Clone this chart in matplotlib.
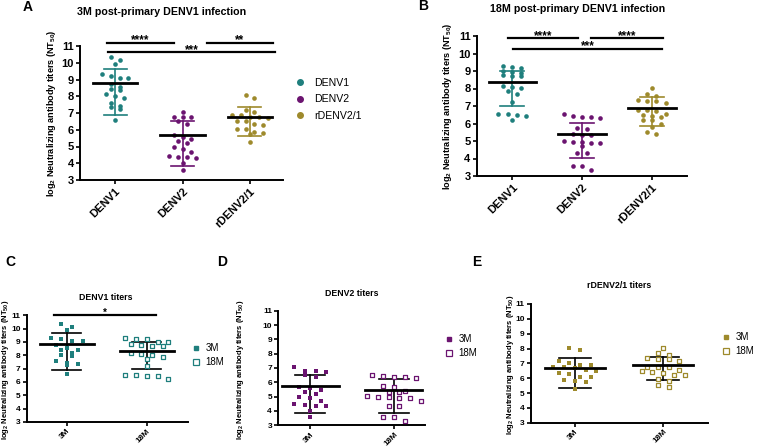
import numpy as np
import matplotlib.pyplot as plt
from matplotlib.lines import Line2D

plt.rcParams['font.family'] = ['Liberation Sans', 'DejaVu Sans']
plt.rcParams['font.weight'] = 'bold'
plt.rcParams['mathtext.fontset'] = 'custom'
plt.rcParams['mathtext.rm'] = 'Liberation Sans:bold'
plt.rcParams['mathtext.it'] = 'Liberation Sans:bold'
plt.rcParams['mathtext.bf'] = 'Liberation Sans:bold'

virus = ['DENV1', 'DENV2', 'rDENV2/1']
tiempos = ['3M', '18M']
colores = ['#1f7f7d', '#6b1470', '#9e8a2c']

# titulos log2 NT50, 3 meses
m3_denv1 = [10.35, 10.15, 9.91, 9.31, 9.21, 9.08, 9.08, 8.74, 8.54, 8.42,
            8.38, 8.14, 8.00, 7.92, 7.61, 7.39, 7.33, 7.25, 6.61]
m3_denv2 = [7.06, 6.78, 6.76, 6.74, 6.50, 6.37, 5.69, 5.59, 5.43, 5.33,
            5.18, 4.96, 4.88, 4.70, 4.46, 4.40, 4.35, 4.33, 3.99, 3.57]
m3_rdenv = [8.06, 7.90, 7.16, 7.04, 6.87, 6.87, 6.75, 6.75, 6.69, 6.55,
            6.51, 6.33, 6.28, 6.06, 6.06, 5.88, 5.81, 5.72, 5.29]

# titulos log2 NT50, 18 meses
m18_denv1 = [9.30, 9.22, 9.20, 9.02, 8.97, 8.88, 8.75, 8.72, 8.70, 8.15,
             8.08, 8.03, 7.85, 7.70, 7.22, 6.55, 6.52, 6.47, 6.45, 6.22]
m18_denv2 = [6.52, 6.42, 6.39, 6.39, 6.30, 5.74, 5.70, 5.42, 5.35, 5.33,
             5.02, 4.95, 4.95, 4.91, 4.88, 4.70, 4.32, 4.32, 3.56, 3.56, 3.33]
m18_rdenv = [8.03, 7.70, 7.58, 7.36, 7.29, 7.29, 7.16, 6.78, 6.75, 6.73,
             6.55, 6.46, 6.42, 6.37, 6.19, 6.19, 5.97, 5.82, 5.52, 5.42]

a_centro = [8.82, 5.71, 6.74]
a_sup = [9.63, 6.53, 7.36]
a_inf = [6.87, 3.85, 5.61]
b_centro = [8.36, 5.38, 6.91]
b_sup = [9.01, 6.05, 7.50]
b_inf = [7.02, 4.02, 5.88]
c_centro = [8.85, 8.30]
c_sup = [9.65, 8.98]
c_inf = [6.88, 6.98]
d_centro = [5.72, 5.49]
d_sup = [6.51, 6.21]
d_inf = [3.84, 3.88]
e_centro = [6.69, 6.87]
e_sup = [7.36, 7.45]
e_inf = [5.31, 5.88]

W, H = 758, 446
fig = plt.figure(figsize=(W / 100, H / 100), dpi=100)


def ejes(x0, y0, x1, y1, xlim):
    ax = fig.add_axes([x0 / W, 1 - y1 / H, (x1 - x0) / W, (y1 - y0) / H])
    ax.set_xlim(*xlim)
    ax.set_ylim(3, 11)
    return ax


def enjambre(ax, x, vals, paso_px, fila_px):
    # filas de puntos parecidas a las de GraphPad (en pixeles)
    bb = ax.get_window_extent()
    xl = ax.get_xlim()
    yl = ax.get_ylim()
    sx = bb.width / (xl[1] - xl[0])
    sy = bb.height / (yl[1] - yl[0])
    vals = np.asarray(vals, float)
    orden = np.argsort(-vals, kind='stable')
    filas = []
    for i in orden:
        if filas and (vals[filas[-1][0]] - vals[i]) * sy < fila_px:
            filas[-1].append(i)
        else:
            filas.append([i])
    xs = np.zeros(len(vals))
    for fila in filas:
        n = len(fila)
        for j, i in enumerate(fila):
            xs[i] = x + (j - (n - 1) / 2) * 2 * paso_px / sx
    return xs


def grupo(ax, x, vals, centro, sup, inf, color, marker, s, paso,
          relleno=True, color_barra=None, media=0.33, cap=0.17):
    xs = enjambre(ax, x, vals, paso, 4.6)
    if relleno:
        ax.scatter(xs, vals, s=s, marker=marker, color=color, lw=0, zorder=3)
    else:
        ax.scatter(xs, vals, s=s, marker=marker, facecolor='white',
                   edgecolor=color, lw=0.9, zorder=3)
    cb = color if color_barra is None else color_barra
    ax.plot([x, x], [inf, sup], color=cb, lw=1.2, zorder=2)
    ax.plot([x - cap, x + cap], [sup, sup], color=cb, lw=1.2, zorder=2)
    ax.plot([x - cap, x + cap], [inf, inf], color=cb, lw=1.2, zorder=2)
    ax.plot([x - media, x + media], [centro, centro], color='black', lw=2, zorder=4)


def estilo(ax, etiquetas, fs):
    for s in ['top', 'right']:
        ax.spines[s].set_visible(False)
    for s in ['left', 'bottom']:
        ax.spines[s].set_linewidth(1.4)
    ax.set_yticks(range(3, 12))
    ax.set_xticks(range(len(etiquetas)))
    ax.set_xticklabels(etiquetas, rotation=45, ha='right', rotation_mode='anchor')
    ax.tick_params(width=1.2, length=3, labelsize=fs, pad=1.5)


def signif(ax, x1, x2, y, txt, fs):
    ax.plot([x1, x2], [y, y], color='black', lw=1.6, clip_on=False)
    ax.text((x1 + x2) / 2, y - 0.04, txt, ha='center', va='baseline',
            fontsize=fs, clip_on=False)


def texto_px(x, y, txt, **kw):
    fig.text(x / W, 1 - y / H, txt, **kw)


ylab = 'log$_2$ Neutralizing antibody titers (NT$_{50}$)'

# ---- Panel A
axA = ejes(80, 46, 283, 180, (-0.52, 2.49))
for i, vals in enumerate([m3_denv1, m3_denv2, m3_rdenv]):
    grupo(axA, i, vals, a_centro[i], a_sup[i], a_inf[i], colores[i], 'o', 11, 4.45)
estilo(axA, virus, 8)
signif(axA, -0.12, 0.87, 11.18, '****', 8.5)
signif(axA, 1.36, 2.34, 11.18, '**', 8.5)
signif(axA, -0.10, 2.37, 10.64, '***', 8.5)
texto_px(52, 113, ylab, rotation=90, ha='center', va='center', fontsize=6.6)
texto_px(162, 12, '3M post-primary DENV1 infection', ha='center', va='center', fontsize=7.7)
texto_px(28, 7, 'A', ha='center', va='center', fontsize=10)
manA = [Line2D([], [], marker='o', ls='none', color=c, markersize=4) for c in colores]
fig.legend(manA, virus, loc='upper left', bbox_to_anchor=(296 / W, 1 - 78 / H),
           frameon=False, handlelength=0.8, handletextpad=0.9, borderpad=0,
           borderaxespad=0, labelspacing=0.6, prop={'weight': 'normal', 'size': 7.6})

# ---- Panel B
axB = ejes(476.7, 36, 686.7, 176, (-0.51, 2.5))
for i, vals in enumerate([m18_denv1, m18_denv2, m18_rdenv]):
    grupo(axB, i, vals, b_centro[i], b_sup[i], b_inf[i], colores[i], 'o', 11, 4.6,
          media=0.34)
estilo(axB, virus, 8)
signif(axB, -0.06, 0.94, 10.87, '****', 8.5)
signif(axB, 1.13, 2.16, 10.87, '****', 8.5)
signif(axB, 0.01, 2.15, 10.26, '***', 8.5)
texto_px(448, 106, ylab, rotation=90, ha='center', va='center', fontsize=6.6)
texto_px(578, 9, '18M post-primary DENV1 infection', ha='center', va='center', fontsize=7.7)
texto_px(423, 6, 'B', ha='center', va='center', fontsize=10)

# ---- Paneles C, D, E
abajo = [
    ('C', 'DENV1 titers', (26.7, 315.3, 188.3, 422), (-0.5, 1.52),
     m3_denv1, m18_denv1, c_centro, c_sup, c_inf, colores[0],
     (106, 298), (10, 262), (6, 370), (193, 343)),
    ('D', 'DENV2 titers', (278.3, 310.7, 425, 425.3), (-0.38, 1.37),
     m3_denv2, m18_denv2, d_centro, d_sup, d_inf, colores[1],
     (352, 293), (222, 262), (240, 370), (446, 334)),
    ('E', 'rDENV2/1 titers', (530.7, 304, 708.3, 422.7), (-0.5, 1.51),
     m3_rdenv, m18_rdenv, e_centro, e_sup, e_inf, colores[2],
     (619, 286), (477, 262), (510, 365), (723, 332)),
]
for (letra, titulo, caja, xlim, v3, v18, cen, sup, inf, col,
     p_tit, p_letra, p_ylab, p_ley) in abajo:
    ax = ejes(*caja, xlim)
    grupo(ax, 0, v3, cen[0], sup[0], inf[0], col, 's', 9, 5.4,
          color_barra='black', media=0.34, cap=0.18)
    grupo(ax, 1, v18, cen[1], sup[1], inf[1], col, 's', 10, 5.4, relleno=False,
          color_barra='black', media=0.34, cap=0.18)
    estilo(ax, tiempos, 6.0)
    ax.tick_params(axis='x', pad=1)
    texto_px(p_ylab[0], p_ylab[1], ylab, rotation=90, ha='center', va='center', fontsize=5.5)
    texto_px(p_tit[0], p_tit[1], titulo, ha='center', va='center', fontsize=6.3)
    texto_px(p_letra[0], p_letra[1], letra, ha='center', va='center', fontsize=10)
    man = [Line2D([], [], marker='s', ls='none', color=col, markersize=3.4),
           Line2D([], [], marker='s', ls='none', markerfacecolor='white',
                  markeredgecolor=col, markeredgewidth=0.9, markersize=3.8)]
    fig.legend(man, tiempos, loc='upper left', bbox_to_anchor=(p_ley[0] / W, 1 - p_ley[1] / H),
               frameon=False, handlelength=0.6, handletextpad=0.7, borderpad=0,
               borderaxespad=0, labelspacing=0.45, prop={'weight': 'normal', 'size': 7})
    if letra == 'C':
        signif(ax, -0.155, 1.11, 11.0, '*', 7)

fig.savefig('out.png', dpi=100)
